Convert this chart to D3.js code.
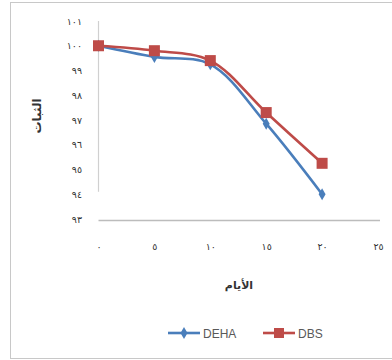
<!DOCTYPE html>
<html><head><meta charset="utf-8">
<script src="https://cdn.jsdelivr.net/npm/d3@7"></script>
<style>body{margin:0;background:#fff}svg{display:block}</style>
</head><body>
<script>
const days = [0, 5, 10, 15, 20];
const dehaValues = [100, 99.55, 99.25, 96.85, 94.0];
const dbsValues = [100, 99.8, 99.4, 97.3, 95.25];
const seriesNames = ["DEHA", "DBS"];
const yTicks = [93, 94, 95, 96, 97, 98, 99, 100, 101];
const xTicks = [0, 5, 10, 15, 20, 25];
const yTitle = "الثبات";
const xTitle = "الأيام";

const W = 392, H = 360;
const svg = d3.select("body").append("svg").attr("width", W).attr("height", H);
svg.append("rect").attr("x", 10.5).attr("y", 2.5).attr("width", W).attr("height", 356)
  .attr("fill", "#fff").attr("stroke", "#c8c8c8");

const x = d3.scaleLinear().domain([0, 25]).range([98.5, 378]);
const y = d3.scaleLinear().domain([93, 101]).range([219, 21]);
const ar = n => String(n).replace(/\d/g, d => "٠١٢٣٤٥٦٧٨٩"[d]);

// axes
svg.append("line").attr("x1", x(0)).attr("x2", x(0)).attr("y1", y(101)).attr("y2", y(94.1))
  .attr("stroke", "#d0d0d0").attr("stroke-width", 1.2);
svg.append("line").attr("x1", x(0)).attr("x2", 380).attr("y1", 220.5).attr("y2", 220.5)
  .attr("stroke", "#bcbcbc").attr("stroke-width", 1.6);

const yAxis = d3.axisLeft(y).tickValues(yTicks).tickSize(0).tickFormat(ar);
const gy = svg.append("g").attr("transform", "translate(82,0)").call(yAxis);
gy.select(".domain").remove();
gy.selectAll("text").attr("font-family", "DejaVu Sans").attr("font-size", 9.5)
  .attr("fill", "#333").attr("x", 0);

const xAxis = d3.axisBottom(x).tickValues(xTicks).tickSize(0).tickFormat(ar);
const gx = svg.append("g").attr("transform", "translate(0,240)").call(xAxis);
gx.select(".domain").remove();
gx.selectAll("text").attr("font-family", "DejaVu Sans").attr("font-size", 9.5).attr("fill", "#333");

svg.append("text").attr("transform", "translate(41,116) rotate(-90)")
  .attr("text-anchor", "middle").attr("font-family", "DejaVu Sans").attr("font-weight", "bold")
  .attr("font-size", 12).attr("fill", "#333").text(yTitle);
svg.append("text").attr("x", 239).attr("y", 289)
  .attr("text-anchor", "middle").attr("font-family", "DejaVu Sans").attr("font-weight", "bold")
  .attr("font-size", 11).attr("fill", "#333").text(xTitle);

const line = d3.line().x(d => x(d[0])).y(d => y(d[1])).curve(d3.curveCatmullRom.alpha(0.5));
const colors = ["#4A7EBB", "#BE4B48"];

svg.append("path").datum(days.map((d, i) => [d, dehaValues[i]])).attr("d", line)
  .attr("fill", "none").attr("stroke", colors[0]).attr("stroke-width", 2.6);
svg.append("path").datum(days.map((d, i) => [d, dbsValues[i]])).attr("d", line)
  .attr("fill", "none").attr("stroke", colors[1]).attr("stroke-width", 2.6);

const diamond = d3.symbol().type(d3.symbolDiamond).size(42);
svg.selectAll(".m0").data(days.map((d, i) => [d, dehaValues[i]])).join("path")
  .attr("transform", d => `translate(${x(d[0])},${y(d[1])})`).attr("d", diamond).attr("fill", colors[0]);
svg.selectAll(".m1").data(days.map((d, i) => [d, dbsValues[i]])).join("rect")
  .attr("x", d => x(d[0]) - 5.5).attr("y", d => y(d[1]) - 5.5).attr("width", 11).attr("height", 11)
  .attr("fill", colors[1]);

// legend
const leg = [{x: 168}, {x: 263}];
leg.forEach((l, i) => {
  svg.append("line").attr("x1", l.x).attr("x2", l.x + 32).attr("y1", 333).attr("y2", 333)
    .attr("stroke", colors[i]).attr("stroke-width", 2.6);
  if (i === 0) svg.append("path").attr("transform", `translate(${l.x + 16},333)`).attr("d", diamond).attr("fill", colors[0]);
  else svg.append("rect").attr("x", l.x + 11).attr("y", 328).attr("width", 10).attr("height", 10).attr("fill", colors[1]);
  svg.append("text").attr("x", l.x + 35).attr("y", 337.5).attr("font-family", "Liberation Sans Narrow, Liberation Sans")
    .attr("font-size", 12).attr("fill", "#595959").text(seriesNames[i]);
});
</script>
</body></html>
